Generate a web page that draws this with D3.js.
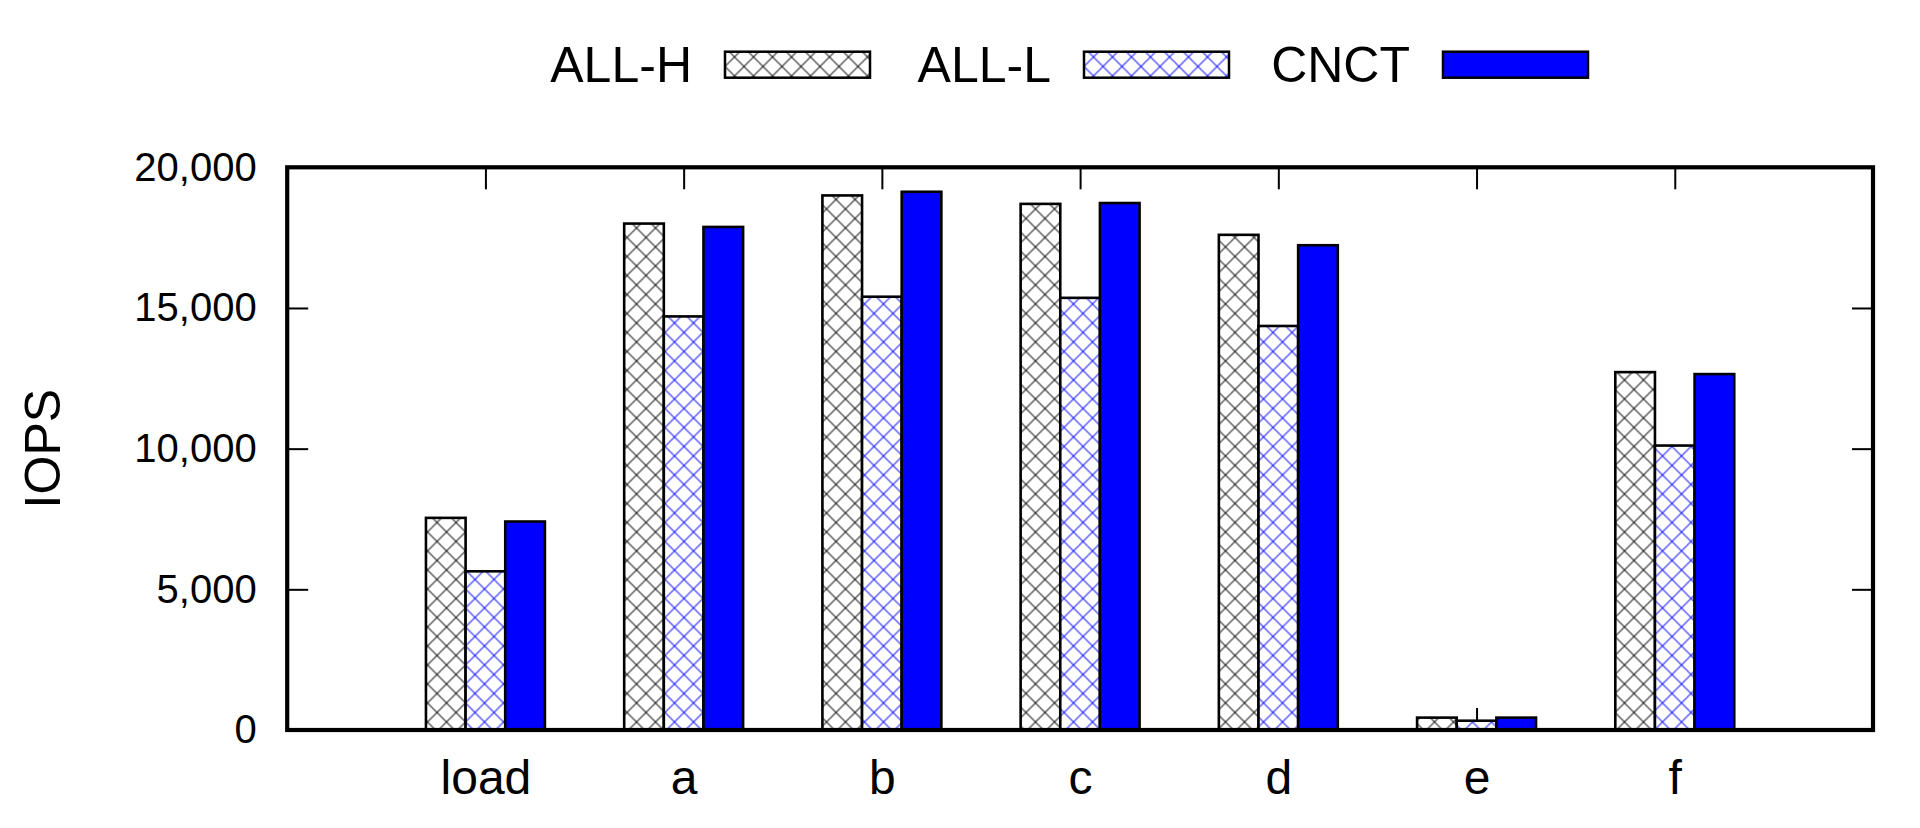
<!DOCTYPE html>
<html>
<head>
<meta charset="utf-8">
<script src="https://cdn.jsdelivr.net/npm/d3@7/dist/d3.min.js"></script>
<style>
  html, body { margin: 0; padding: 0; background: #fff; }
  svg { display: block; }
  text { font-family: "Liberation Sans", Arial, Helvetica, sans-serif; fill: #000; }
</style>
</head>
<body>
<svg id="chart" width="1920" height="828"></svg>
<script>
// ---- data ----
const categories = ["load", "a", "b", "c", "d", "e", "f"];
const seriesNames = ["ALL-H", "ALL-L", "CNCT"];
const allH = [7540, 18000, 19000, 18700, 17600, 440, 12720];
const allL = [5640, 14700, 15400, 15360, 14360, 330, 10110];
const cnct = [7410, 17880, 19130, 18730, 17230, 440, 12650];
const yTicks = [0, 5000, 10000, 15000, 20000];

const seriesValues = [allH, allL, cnct];

// ---- layout ----
const plotL = 287.2, plotR = 1873, plotT = 167.3, plotB = 730;
const svg = d3.select("#chart");

const x = d3.scaleLinear().domain([-1, categories.length]).range([plotL, plotR]);
const y = d3.scaleLinear().domain([0, 20000]).range([plotB, plotT]);
const barW = 0.2;

// patterns
const defs = svg.append("defs");
function hatch(id, color) {
  const s = 19 / Math.SQRT2;
  const p = defs.append("pattern")
    .attr("id", id)
    .attr("patternUnits", "userSpaceOnUse")
    .attr("width", s).attr("height", s)
    .attr("patternTransform", "rotate(45)");
  p.append("rect").attr("width", s).attr("height", s).attr("fill", "#fff");
  p.append("path")
    .attr("d", `M${s/2},0V${s}M0,${s/2}H${s}`)
    .attr("stroke", color).attr("stroke-width", 0.9).attr("fill", "none");
}
hatch("hatchBlack", "#000");
hatch("hatchBlue", "#0000ff");
const fills = ["url(#hatchBlack)", "url(#hatchBlue)", "#0000ff"];

// ---- axes (ticks under the bars) ----
const fmt = d3.format(",");
const gLeft = svg.append("g").attr("transform", `translate(${plotL},0)`)
  .call(d3.axisLeft(y).tickValues(yTicks).tickFormat(fmt).tickSizeInner(-21).tickSizeOuter(0).tickPadding(30.5));
const gRight = svg.append("g").attr("transform", `translate(${plotR},0)`)
  .call(d3.axisRight(y).tickValues(yTicks).tickFormat("").tickSizeInner(-21).tickSizeOuter(0));
const catIdx = categories.map((d, i) => i);
const gBottom = svg.append("g").attr("transform", `translate(0,${plotB})`)
  .call(d3.axisBottom(x).tickValues(catIdx).tickFormat(i => categories[i]).tickSizeInner(-22).tickSizeOuter(0));
const gTop = svg.append("g").attr("transform", `translate(0,${plotT})`)
  .call(d3.axisTop(x).tickValues(catIdx).tickFormat("").tickSizeInner(-22).tickSizeOuter(0));

[gLeft, gRight, gBottom, gTop].forEach(g => {
  g.select(".domain").remove();
  g.selectAll(".tick line").attr("stroke", "#000").attr("stroke-width", 2);
});
gLeft.selectAll("text").attr("font-size", 40).attr("fill", "#000")
  .style("font-family", "'Liberation Sans', Arial, sans-serif");
gBottom.selectAll("text").attr("font-size", 48).attr("fill", "#000")
  .attr("y", 64).attr("dy", 0)
  .style("font-family", "'Liberation Sans', Arial, sans-serif");

// ---- bars ----
seriesValues.forEach((vals, s) => {
  svg.append("g").selectAll("rect").data(vals).join("rect")
    .attr("x", (d, i) => x(i - 0.3 + s * barW))
    .attr("width", x(barW) - x(0))
    .attr("y", d => y(d))
    .attr("height", d => y(0) - y(d))
    .attr("fill", fills[s])
    .attr("stroke", "#000")
    .attr("stroke-width", 2.6);
});

// ---- frame ----
svg.append("rect")
  .attr("x", plotL).attr("y", plotT)
  .attr("width", plotR - plotL).attr("height", plotB - plotT)
  .attr("fill", "none").attr("stroke", "#000").attr("stroke-width", 4.2);

// ---- y label ----
svg.append("text")
  .attr("transform", `translate(59.5,${(plotT + plotB) / 2}) rotate(-90)`)
  .attr("text-anchor", "middle")
  .attr("font-size", 50)
  .text("IOPS");

// ---- legend ----
const legend = svg.append("g");
const entry = legend.selectAll("g").data(seriesNames).join("g")
  .attr("transform", (d, i) => `translate(${725 + i * 359},0)`);
entry.append("text")
  .attr("x", -33).attr("y", 81.7)
  .attr("text-anchor", "end")
  .attr("font-size", 50)
  .text(d => d);
entry.append("rect")
  .attr("x", 0).attr("y", 51.7)
  .attr("width", 145).attr("height", 26)
  .attr("fill", (d, i) => fills[i])
  .attr("stroke", "#000").attr("stroke-width", 2.5);
</script>
</body>
</html>
